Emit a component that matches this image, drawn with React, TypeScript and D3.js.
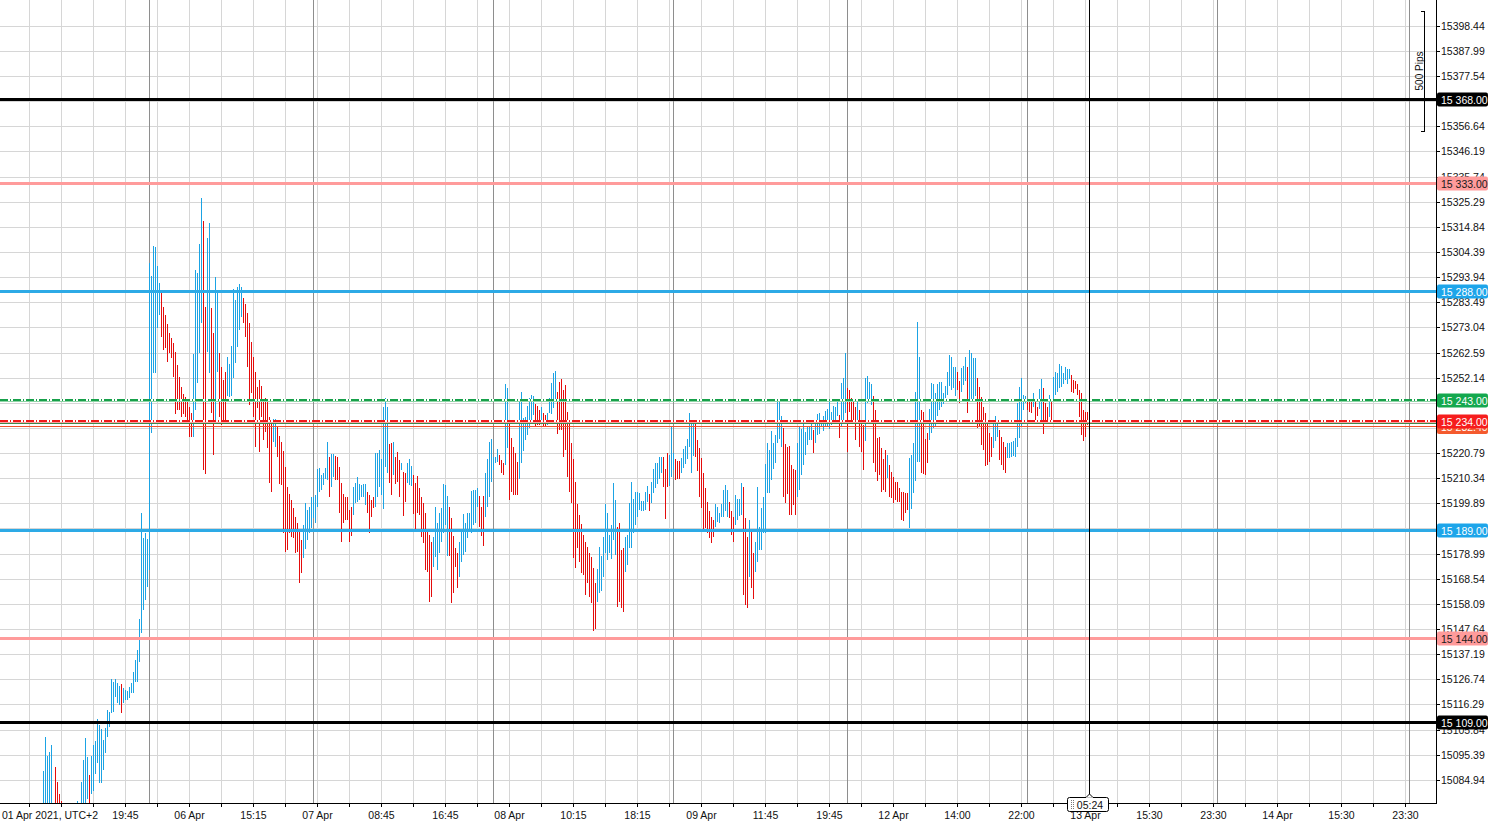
import React from "react";
import * as d3 from "d3";

// ---------- DATA ----------
const firstTimeLabel = "01 Apr 2021, UTC+2";
const timeLabels = [
  "19:45", "06 Apr", "15:15", "07 Apr", "08:45", "16:45", "08 Apr", "10:15", "18:15", "09 Apr",
  "11:45", "19:45", "12 Apr", "14:00", "22:00", "13 Apr", "15:30", "23:30", "14 Apr", "15:30", "23:30",
];

const priceTicks = [
  15398.44, 15387.99, 15377.54, 15367.09, 15356.64, 15346.19, 15335.74, 15325.29, 15314.84, 15304.39,
  15293.94, 15283.49, 15273.04, 15262.59, 15252.14, 15241.69, 15231.24, 15220.79, 15210.34, 15199.89,
  15189.44, 15178.99, 15168.54, 15158.09, 15147.64, 15137.19, 15126.74, 15116.29, 15105.84, 15095.39,
  15084.94,
];

const levelPrices = [15368, 15333, 15288, 15243, 15234, 15189, 15144, 15109];
const bidPrice = 15233.2;
const askPrice = 15232.4;
const daySeparators = [53, 135, 225, 315, 402, 492, 587, 683];
const cursorIndex = 523;
const cursorLabel = "05:24";
const rulerTopPrice = 15404.7;
const rulerPips = 500;
const pipSize = 0.1;

const highs = [
  15088.6, 15102.8, 15094.9, 15096.5, 15099.4, 15074.1, 15090.3, 15084.1, 15079.1, 15076.2,
  15073.3, 15071.6, 15072.4, 15070.8, 15072.4, 15073.3, 15074.1, 15076.2, 15074.5, 15084.1,
  15093.2, 15102.4, 15094.5, 15087.0, 15094.9, 15099.4, 15101.1, 15110.3, 15107.8, 15106.1,
  15101.5, 15106.5, 15114.0, 15113.2, 15126.9, 15125.6, 15126.9, 15125.2, 15124.0, 15124.8,
  15123.1, 15122.3, 15121.9, 15123.6, 15125.2, 15129.8, 15134.8, 15138.9, 15151.8, 15195.9,
  15185.5, 15187.6, 15185.1, 15299.8, 15294.4, 15306.9, 15306.5, 15298.6, 15291.5, 15287.4,
  15281.5, 15278.2, 15274.5, 15270.7, 15268.6, 15266.6, 15262.8, 15257.4, 15252.4, 15248.3,
  15245.4, 15244.1, 15242.0, 15240.0, 15237.5, 15262.0, 15296.9, 15295.7, 15307.7, 15326.8,
  15317.3, 15281.5, 15310.2, 15316.5, 15281.1, 15270.7, 15294.0, 15287.4, 15262.4, 15256.6,
  15251.2, 15254.5, 15260.7, 15257.8, 15265.3, 15289.0, 15284.4, 15289.9, 15291.1, 15289.9,
  15285.3, 15282.8, 15279.0, 15274.9, 15267.0, 15260.7, 15254.5, 15248.3, 15251.2, 15248.7,
  15242.0, 15243.7, 15243.3, 15235.8, 15234.6, 15235.0, 15235.0, 15231.6, 15227.9, 15225.4,
  15221.7, 15215.0, 15206.7, 15203.8, 15201.3, 15198.0, 15194.2, 15191.7, 15188.8, 15184.7,
  15190.9, 15200.1, 15197.1, 15198.4, 15202.5, 15202.5, 15203.4, 15214.2, 15214.6, 15211.7,
  15212.5, 15214.6, 15225.4, 15219.2, 15220.4, 15220.4, 15219.6, 15219.2, 15215.0, 15208.4,
  15203.8, 15202.5, 15202.5, 15197.1, 15198.4, 15206.7, 15208.4, 15210.9, 15208.0, 15207.5,
  15208.0, 15208.0, 15204.6, 15203.4, 15201.3, 15202.5, 15220.8, 15220.8, 15222.1, 15218.3,
  15240.0, 15243.7, 15240.0, 15224.6, 15225.0, 15225.4, 15219.2, 15221.3, 15217.9, 15216.7,
  15212.9, 15212.5, 15216.7, 15218.3, 15215.4, 15211.7, 15208.4, 15211.3, 15206.3, 15202.5,
  15200.1, 15195.9, 15188.8, 15186.7, 15183.8, 15185.9, 15198.4, 15191.7, 15195.9, 15198.0,
  15208.0, 15207.5, 15202.9, 15198.4, 15193.8, 15186.3, 15181.3, 15179.3, 15183.8, 15189.2,
  15195.5, 15191.7, 15195.9, 15195.9, 15205.0, 15205.5, 15205.5, 15206.3, 15202.9, 15198.4,
  15202.9, 15212.5, 15218.3, 15225.4, 15226.7, 15219.2, 15219.2, 15222.5, 15220.0, 15217.9,
  15216.7, 15249.5, 15247.9, 15234.6, 15227.1, 15223.3, 15220.8, 15217.1, 15243.3, 15246.2,
  15235.4, 15235.8, 15240.4, 15243.7, 15245.0, 15244.5, 15241.2, 15240.4, 15238.7, 15240.0,
  15237.5, 15236.6, 15237.5, 15243.7, 15249.9, 15254.1, 15254.9, 15246.2, 15250.4, 15251.6,
  15247.0, 15249.1, 15237.9, 15234.6, 15225.0, 15218.3, 15208.8, 15199.7, 15195.1, 15191.3,
  15186.7, 15183.8, 15181.7, 15179.3, 15177.6, 15173.0, 15166.8, 15172.6, 15181.7, 15178.0,
  15185.9, 15199.7, 15195.9, 15186.7, 15190.9, 15208.4, 15201.3, 15190.1, 15191.7, 15180.5,
  15181.3, 15185.9, 15186.7, 15200.1, 15208.8, 15201.7, 15204.6, 15204.6, 15204.2, 15200.9,
  15200.9, 15204.6, 15207.1, 15203.8, 15208.8, 15214.2, 15216.7, 15216.7, 15219.2, 15219.2,
  15219.2, 15214.2, 15220.8, 15220.0, 15231.6, 15220.8, 15218.3, 15217.5, 15217.5, 15218.8,
  15222.5, 15223.7, 15226.7, 15237.5, 15233.7, 15233.7, 15233.3, 15226.2, 15222.9, 15218.8,
  15212.5, 15206.3, 15200.5, 15196.7, 15194.2, 15193.0, 15199.7, 15198.4, 15195.9, 15199.7,
  15205.5, 15207.5, 15205.5, 15200.5, 15196.7, 15194.2, 15203.4, 15201.7, 15201.7, 15208.4,
  15206.7, 15193.8, 15185.9, 15193.0, 15189.2, 15179.3, 15183.8, 15206.7, 15190.1, 15198.0,
  15202.5, 15216.3, 15225.0, 15222.1, 15230.0, 15225.0, 15228.3, 15242.0, 15243.3, 15236.2,
  15231.2, 15224.6, 15223.3, 15223.7, 15215.8, 15214.2, 15213.8, 15225.0, 15232.1, 15230.8,
  15233.3, 15229.6, 15231.6, 15232.1, 15233.7, 15230.4, 15234.1, 15237.1, 15237.5, 15234.6,
  15236.2, 15238.3, 15239.1, 15242.0, 15237.9, 15240.4, 15240.0, 15243.3, 15236.6, 15249.9,
  15252.0, 15262.4, 15247.9, 15247.0, 15243.7, 15243.3, 15240.0, 15242.0, 15238.7, 15234.6,
  15232.5, 15252.0, 15252.9, 15250.4, 15249.5, 15244.5, 15238.7, 15227.1, 15227.5, 15222.9,
  15218.3, 15222.1, 15220.0, 15215.8, 15212.9, 15210.9, 15208.8, 15208.8, 15206.3, 15204.6,
  15204.6, 15204.2, 15204.2, 15218.8, 15220.0, 15225.0, 15246.2, 15275.3, 15260.7, 15238.7,
  15237.9, 15226.7, 15229.2, 15239.1, 15249.9, 15249.5, 15245.8, 15249.5, 15250.4, 15250.4,
  15245.8, 15248.7, 15254.5, 15261.6, 15260.7, 15256.6, 15256.6, 15254.5, 15250.8, 15256.2,
  15257.0, 15260.7, 15256.6, 15263.7, 15262.4, 15260.3, 15260.3, 15252.0, 15248.3, 15244.1,
  15240.0, 15237.5, 15232.9, 15229.2, 15227.5, 15234.6, 15236.2, 15233.7, 15230.4, 15227.5,
  15225.4, 15223.3, 15225.0, 15225.0, 15225.4, 15225.8, 15227.1, 15241.6, 15248.3, 15252.0,
  15244.9, 15244.5, 15242.9, 15242.9, 15242.5, 15245.8, 15243.3, 15240.0, 15247.4, 15251.6,
  15247.9, 15241.6, 15240.0, 15244.9, 15242.9, 15252.4, 15254.5, 15254.1, 15257.8, 15257.0,
  15254.1, 15256.6, 15255.8, 15255.8, 15253.3, 15251.2, 15250.8, 15249.5, 15247.0, 15245.8,
  15238.7, 15237.9, 15237.9,
];

const lows = [
  15071.6, 15071.6, 15071.6, 15071.6, 15071.6, 15064.1, 15071.6, 15070.3, 15068.3, 15066.2,
  15064.9, 15063.3, 15064.1, 15062.4, 15063.3, 15065.8, 15067.4, 15068.3, 15068.3, 15072.4,
  15075.3, 15075.3, 15077.0, 15075.3, 15079.1, 15080.3, 15087.4, 15092.0, 15083.6, 15083.6,
  15089.1, 15096.1, 15102.8, 15106.9, 15112.7, 15113.2, 15119.4, 15116.9, 15116.1, 15112.7,
  15116.9, 15118.2, 15118.2, 15119.0, 15121.1, 15121.1, 15125.6, 15125.6, 15134.0, 15146.0,
  15155.6, 15159.7, 15165.1, 15172.2, 15229.2, 15254.1, 15254.1, 15272.8, 15278.2, 15269.1,
  15263.7, 15264.5, 15258.7, 15262.4, 15260.3, 15252.4, 15237.1, 15238.7, 15238.7, 15235.8,
  15237.1, 15235.8, 15233.3, 15227.5, 15227.5, 15227.5, 15238.7, 15249.9, 15262.4, 15274.9,
  15213.8, 15212.1, 15262.8, 15254.1, 15237.5, 15220.0, 15233.3, 15254.5, 15235.8, 15232.5,
  15233.3, 15233.3, 15244.5, 15244.1, 15244.5, 15252.0, 15258.3, 15264.9, 15272.0, 15277.4,
  15274.9, 15269.1, 15256.6, 15240.8, 15245.8, 15235.8, 15223.3, 15239.5, 15221.3, 15235.8,
  15226.2, 15229.6, 15222.9, 15208.4, 15204.6, 15225.4, 15223.3, 15219.2, 15208.0, 15207.5,
  15187.6, 15179.7, 15180.5, 15187.6, 15185.9, 15185.5, 15179.3, 15179.7, 15166.8, 15171.0,
  15177.2, 15180.9, 15184.7, 15187.6, 15189.7, 15193.8, 15191.7, 15198.4, 15204.6, 15205.5,
  15207.5, 15210.0, 15209.6, 15202.5, 15206.7, 15210.9, 15209.6, 15209.6, 15195.9, 15183.8,
  15191.7, 15193.0, 15193.0, 15183.8, 15186.3, 15195.1, 15200.1, 15200.5, 15201.3, 15202.5,
  15202.5, 15199.2, 15195.9, 15187.6, 15194.2, 15198.0, 15198.4, 15202.5, 15206.7, 15203.4,
  15197.5, 15215.0, 15212.5, 15208.4, 15203.4, 15211.7, 15208.0, 15208.8, 15202.5, 15213.8,
  15194.6, 15200.5, 15208.4, 15207.5, 15207.1, 15195.5, 15188.8, 15195.9, 15195.1, 15185.9,
  15183.4, 15172.2, 15171.4, 15158.9, 15161.0, 15173.4, 15177.6, 15172.2, 15179.3, 15183.8,
  15187.6, 15190.9, 15178.0, 15178.0, 15158.5, 15162.6, 15173.4, 15164.7, 15169.3, 15175.5,
  15178.4, 15179.7, 15185.5, 15188.0, 15187.6, 15190.9, 15191.7, 15198.4, 15190.1, 15186.3,
  15182.2, 15194.2, 15198.4, 15202.5, 15208.8, 15213.8, 15216.7, 15217.1, 15215.8, 15212.5,
  15211.7, 15215.8, 15222.9, 15201.3, 15204.6, 15203.4, 15203.4, 15203.4, 15210.0, 15216.7,
  15221.7, 15226.2, 15228.3, 15231.2, 15233.7, 15236.6, 15231.6, 15232.5, 15232.5, 15234.6,
  15232.1, 15231.6, 15232.5, 15237.5, 15237.1, 15239.6, 15242.9, 15228.7, 15230.4, 15230.4,
  15219.2, 15222.1, 15210.9, 15204.6, 15200.1, 15177.2, 15173.0, 15181.3, 15175.5, 15171.0,
  15170.1, 15161.8, 15166.8, 15161.0, 15158.5, 15146.8, 15147.7, 15158.9, 15162.6, 15163.5,
  15169.3, 15179.3, 15176.4, 15179.3, 15176.8, 15184.7, 15178.4, 15156.8, 15158.9, 15156.4,
  15154.7, 15171.4, 15174.3, 15181.3, 15181.3, 15187.6, 15190.9, 15194.2, 15197.1, 15196.7,
  15196.7, 15197.1, 15200.5, 15196.7, 15200.1, 15204.2, 15206.3, 15208.0, 15210.0, 15212.5,
  15206.7, 15193.4, 15206.7, 15207.1, 15210.9, 15213.8, 15209.6, 15210.0, 15210.0, 15212.5,
  15214.6, 15216.3, 15218.3, 15223.3, 15212.5, 15219.6, 15219.2, 15213.3, 15202.5, 15198.0,
  15188.0, 15189.7, 15187.6, 15185.5, 15183.4, 15185.9, 15190.1, 15192.2, 15191.7, 15194.2,
  15194.2, 15196.7, 15194.2, 15193.8, 15186.7, 15183.8, 15190.9, 15193.0, 15194.6, 15195.1,
  15161.8, 15157.6, 15156.4, 15169.3, 15164.7, 15160.1, 15171.4, 15175.5, 15180.5, 15180.5,
  15187.6, 15187.6, 15204.2, 15204.2, 15209.6, 15214.2, 15216.7, 15225.0, 15226.7, 15223.3,
  15202.5, 15200.1, 15203.8, 15195.1, 15195.1, 15199.2, 15195.1, 15202.5, 15205.5, 15211.7,
  15215.8, 15220.0, 15224.2, 15226.2, 15226.2, 15220.8, 15225.0, 15228.3, 15228.7, 15231.6,
  15230.0, 15231.6, 15232.1, 15230.8, 15232.5, 15234.6, 15233.3, 15236.2, 15227.1, 15231.6,
  15234.6, 15237.5, 15221.3, 15237.9, 15233.7, 15234.1, 15226.2, 15234.6, 15223.3, 15221.3,
  15213.8, 15225.8, 15241.6, 15242.9, 15240.8, 15216.7, 15212.9, 15209.2, 15211.7, 15204.6,
  15205.5, 15204.6, 15210.4, 15202.5, 15202.1, 15200.1, 15201.3, 15200.5, 15200.5, 15193.0,
  15192.6, 15195.9, 15197.1, 15189.7, 15197.5, 15204.2, 15209.2, 15217.1, 15217.1, 15212.5,
  15212.1, 15211.7, 15216.7, 15226.2, 15229.2, 15231.2, 15231.6, 15236.2, 15238.7, 15240.0,
  15241.2, 15243.7, 15245.0, 15248.7, 15247.0, 15247.9, 15244.5, 15247.0, 15241.6, 15246.2,
  15249.1, 15250.8, 15237.5, 15242.4, 15242.4, 15242.9, 15244.5, 15231.2, 15231.6, 15224.2,
  15222.1, 15215.4, 15215.8, 15217.1, 15219.2, 15222.9, 15225.8, 15227.5, 15217.9, 15215.8,
  15213.8, 15212.5, 15218.8, 15218.8, 15219.2, 15219.6, 15219.2, 15223.3, 15227.1, 15231.6,
  15238.7, 15241.6, 15238.7, 15237.9, 15237.5, 15240.0, 15234.6, 15236.2, 15239.1, 15233.3,
  15228.7, 15233.3, 15234.6, 15235.8, 15233.3, 15242.9, 15244.9, 15246.2, 15247.9, 15248.3,
  15249.5, 15251.2, 15249.5, 15251.6, 15246.2, 15245.8, 15247.4, 15244.9, 15235.8, 15228.3,
  15225.8, 15227.5, 15232.5,
];

// u = bullish bar, d = bearish bar
const directions = [
  "uuuuu", "ddddddd", "u", "d", "uuu", "uuuuuu", "d", "uuuuuuuuuuuuuuu", "d", "uuuuuuuuuuuuuuuuuuu",
  "dddddddddddddddd", "uuuuu", "dd", "uu", "dd", "uu", "dddd", "uuuuuuuu", "ddddddddddddddd", "uu",
  "ddddddddddddd", "uuuuuuuuuuuuu", "d", "uu", "ddddddddd", "uuuuuuu", "dddd", "uuuuuuu", "dd", "u",
  "ddd", "u", "dd", "uuu", "dddddddddd", "uuuuuuuu", "ddddd", "uuuuuuuuuu", "ddd", "uuuuuuu",
  "ddd", "uu", "ddddd", "uuuuuuuu", "ddd", "u", "dd", "uuuuu", "dddddddddddddddddddd", "uuuuuuuuuu",
  "dddd", "uuuuuuuuuuuu", "d", "uuuuuu", "ddd", "uuu", "ddd", "uuuuuuu", "dddddddddd", "uuuuuuu",
  "ddd", "uuuu", "ddd", "u", "dd", "uuuuuuuuuuuuuu", "ddddddd", "uuuuuuuu", "d", "uuuuuuuuuuuu",
  "d", "uuu", "ddddd", "u", "ddd", "uuuu", "ddddddd", "u", "dddddddddd", "uuuuuu",
  "dddd", "uuuuuuuuuuuuuu", "dd", "uuu", "d", "uuuu", "dddddddd", "uuu", "dddd", "uuuuuuuuuu",
  "ddd", "u", "dd", "uu", "ddd", "u", "d", "uuuuuuuuu", "ddddddddd",
].join("");

// ---------- LAYOUT ----------
const W = 1488;
const H = 823;
const plotRight = 1436;
const plotBottom = 803;
const FONT = "'Liberation Sans', Arial, sans-serif";

const xScale = d3.scaleLinear().domain([0, 696.5]).range([43, plotRight]);
const yScale = d3.scaleLinear().domain([15075.3, 15409.16]).range([plotBottom, 0]);

const levelStyles = [
  { color: "#000000", bg: "#000000", fg: "#ffffff", dash: false },
  { color: "#FF9B9B", bg: "#FF9B9B", fg: "#1a1a1a", dash: false },
  { color: "#2DAAE6", bg: "#1DA5EA", fg: "#ffffff", dash: false },
  { color: "#17A04A", bg: "#14A84E", fg: "#ffffff", dash: true, light: "#8FD4A6" },
  { color: "#F01818", bg: "#F61D1D", fg: "#ffffff", dash: true, light: "#F7A0A0" },
  { color: "#2DAAE6", bg: "#1DA5EA", fg: "#ffffff", dash: false },
  { color: "#FF9B9B", bg: "#FF9B9B", fg: "#1a1a1a", dash: false },
  { color: "#000000", bg: "#000000", fg: "#ffffff", dash: false },
];

const fmtLevel = (p: number) => {
  const s = p.toFixed(2);
  return s.slice(0, 2) + " " + s.slice(2);
};

const py = (p: number) => Math.round(yScale(p));

export default function App() {
  const n = highs.length;
  const gridXs: number[] = [];
  for (let k = 0; ; k++) {
    const x = xScale(-7 + 16 * k);
    if (x >= plotRight) break;
    gridXs.push(x);
  }
  const rulerBottomPrice = rulerTopPrice - rulerPips * pipSize;
  const cx = xScale(cursorIndex);

  return (
    <svg
      width={W}
      height={H}
      style={{ position: "absolute", left: 0, top: 0, background: "#fff" }}
      shapeRendering="crispEdges"
    >
      <defs>
        <clipPath id="plot">
          <rect x={0} y={0} width={plotRight} height={plotBottom} />
        </clipPath>
      </defs>
      <rect x={0} y={0} width={W} height={H} fill="#fff" />

      {/* grid */}
      <g stroke="#D6D6D6" strokeWidth={1}>
        {priceTicks.map((t, i) => (
          <line key={"h" + i} x1={0} x2={plotRight} y1={py(t) + 0.5} y2={py(t) + 0.5} />
        ))}
        {gridXs.map((x, i) => (
          <line key={"v" + i} x1={x + 0.5} x2={x + 0.5} y1={0} y2={plotBottom} />
        ))}
      </g>

      {/* day separators */}
      <g stroke="#8E8E8E" strokeWidth={1}>
        {daySeparators.map((d, i) => (
          <line key={"s" + i} x1={xScale(d) + 0.5} x2={xScale(d) + 0.5} y1={0} y2={plotBottom} />
        ))}
      </g>

      {/* bars */}
      <g clipPath="url(#plot)">
        {highs.map((h, i) => {
          if (i >= n) return null;
          const y1 = yScale(h);
          const y2 = yScale(lows[i]);
          const up = directions[i] !== "d";
          return (
            <rect
              key={"b" + i}
              x={xScale(i)}
              y={y1}
              width={1}
              height={Math.max(1, y2 - y1)}
              fill={up ? "#1BA3E4" : "#E40C0C"}
            />
          );
        })}
      </g>

      {/* bid / ask lines */}
      <line x1={0} x2={plotRight} y1={py(bidPrice) + 0.5} y2={py(bidPrice) + 0.5} stroke="#3C8A4A" strokeWidth={1} />
      <line x1={0} x2={plotRight} y1={py(askPrice) + 1.5} y2={py(askPrice) + 1.5} stroke="#F0522C" strokeWidth={1} />

      {/* level lines */}
      {levelPrices.map((p, i) => {
        const st = levelStyles[i];
        const y = py(p);
        if (st.dash) {
          return (
            <g key={"l" + i}>
              <line x1={0} x2={plotRight} y1={y + 1.5} y2={y + 1.5} stroke={st.light} strokeWidth={1} />
              <line x1={0} x2={plotRight} y1={y} y2={y} stroke="#ffffff" strokeWidth={2} />
              <line x1={0} x2={plotRight} y1={y} y2={y} stroke={st.color} strokeWidth={2} strokeDasharray="8,2,1,2" />
            </g>
          );
        }
        return <line key={"l" + i} x1={0} x2={plotRight} y1={y + 0.5} y2={y + 0.5} stroke={st.color} strokeWidth={3} />;
      })}

      {/* cursor line */}
      <line x1={cx + 0.5} x2={cx + 0.5} y1={0} y2={794} stroke="#000" strokeWidth={1} />

      {/* axes */}
      <line x1={plotRight + 0.5} x2={plotRight + 0.5} y1={0} y2={plotBottom + 1} stroke="#000" />
      <line x1={0} x2={plotRight + 1} y1={plotBottom + 0.5} y2={plotBottom + 0.5} stroke="#000" />

      {/* y ticks */}
      <g fontFamily={FONT} fontSize={10.5} fill="#111" shapeRendering="auto">
        {priceTicks.map((t, i) => (
          <g key={"yt" + i}>
            <line x1={plotRight + 1} x2={plotRight + 4} y1={py(t) + 0.5} y2={py(t) + 0.5} stroke="#000" shapeRendering="crispEdges" />
            <text x={1441} y={py(t) + 4}>{t.toFixed(2)}</text>
          </g>
        ))}
      </g>

      {/* x ticks */}
      <g stroke="#000">
        {gridXs.map((x, i) => (
          <line key={"xt" + i} x1={x + 0.5} x2={x + 0.5} y1={plotBottom + 1} y2={plotBottom + 4} />
        ))}
      </g>
      <g fontFamily={FONT} fontSize={10.5} fill="#111" shapeRendering="auto">
        <text x={2} y={819}>{firstTimeLabel}</text>
        {timeLabels.map((l, m) => (
          <text key={"xl" + m} x={xScale(41 + 32 * m) + 0.5} y={819} textAnchor="middle">
            {l}
          </text>
        ))}
      </g>

      {/* ask label (behind) */}
      <g shapeRendering="auto">
        <rect x={1437} y={py(askPrice) - 5} width={51} height={14} rx={2} fill="#F45A2E" />
        <text x={1441} y={py(askPrice) + 6} fontFamily={FONT} fontSize={10.5} fill="#fff">
          {fmtLevel(askPrice)}
        </text>
      </g>

      {/* level labels */}
      <g shapeRendering="auto">
        {levelPrices.map((p, i) => {
          const st = levelStyles[i];
          const y = py(p);
          return (
            <g key={"ll" + i}>
              <rect x={1437} y={y - 6.5} width={51} height={14} rx={2} fill={st.bg} />
              <text x={1441} y={y + 4.5} fontFamily={FONT} fontSize={10.5} fill={st.fg}>
                {fmtLevel(p)}
              </text>
            </g>
          );
        })}
      </g>

      {/* 500 pips ruler */}
      <g stroke="#000" strokeWidth={1}>
        <line x1={1424.5} x2={1424.5} y1={py(rulerTopPrice) + 0.5} y2={py(rulerBottomPrice) + 0.5} />
        <line x1={1421} x2={1425} y1={py(rulerTopPrice) + 0.5} y2={py(rulerTopPrice) + 0.5} />
        <line x1={1421} x2={1425} y1={py(rulerBottomPrice) + 0.5} y2={py(rulerBottomPrice) + 0.5} />
      </g>
      <text
        transform={`translate(1422.5,${(py(rulerTopPrice) + py(rulerBottomPrice)) / 2}) rotate(-90)`}
        textAnchor="middle"
        fontFamily={FONT}
        fontSize={10}
        fill="#111"
        shapeRendering="auto"
      >
        {`${rulerPips} Pips`}
      </text>

      {/* cursor time box */}
      <g shapeRendering="auto">
        <rect x={cx - 21.5} y={797.5} width={41} height={14} rx={2} fill="#fff" stroke="#000" />
        <path d={`M${cx - 3},797.5 L${cx + 0.5},794 L${cx + 4},797.5`} fill="#fff" stroke="#000" />
        <line x1={cx - 3} x2={cx + 4} y1={798} y2={798} stroke="#fff" strokeWidth={1.2} />
        {[0, 1, 2, 3, 4].map((k) => (
          <g key={"gr" + k} fill="#777">
            <rect x={cx - 18} y={800 + k * 2} width={1} height={1} />
            <rect x={cx - 16} y={800 + k * 2} width={1} height={1} />
          </g>
        ))}
        <text x={cx + 1} y={808.5} textAnchor="middle" fontFamily={FONT} fontSize={10.5} fill="#111">
          {cursorLabel}
        </text>
      </g>
    </svg>
  );
}
